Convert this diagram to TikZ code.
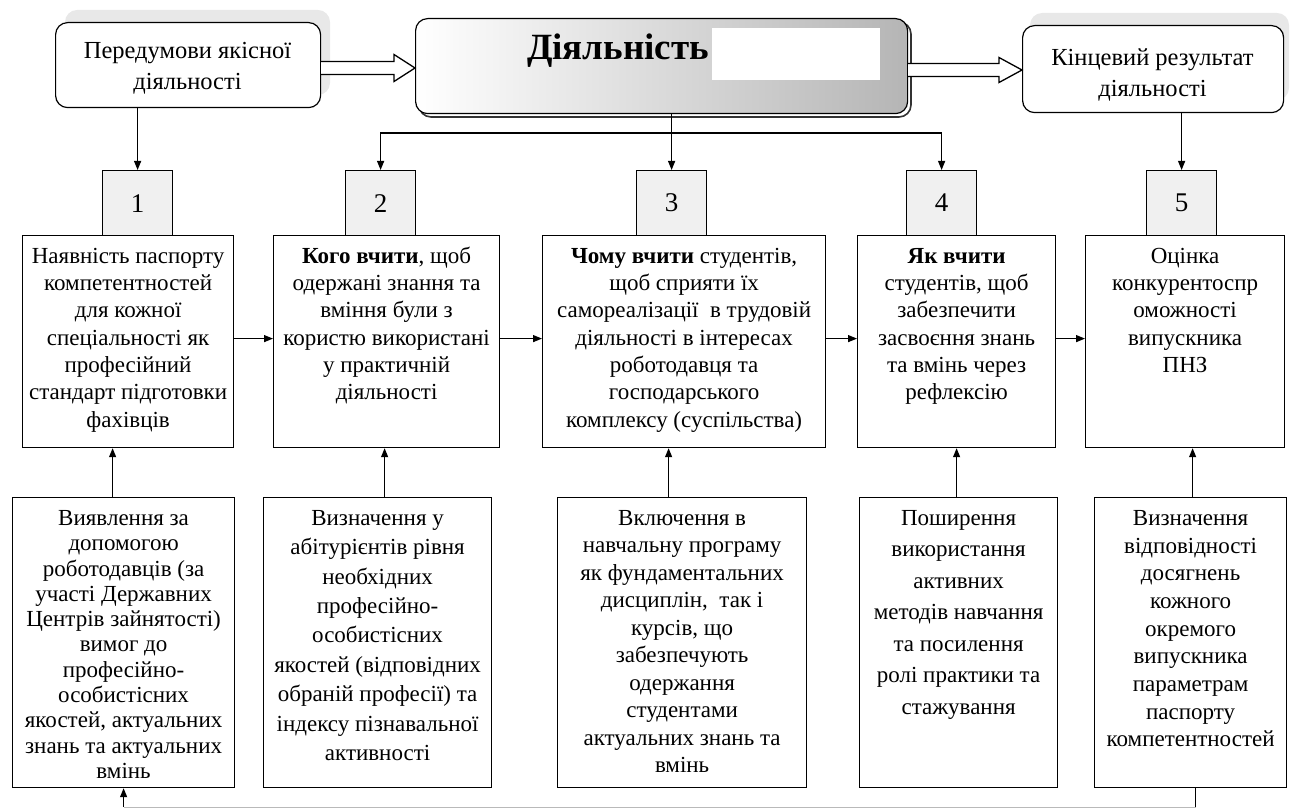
\documentclass[tikz,border=0pt]{standalone}
\usepackage{fontspec}
\setmainfont{Liberation Serif}
\usetikzlibrary{arrows.meta,calc}
\tikzset{
  box/.style={draw=black, line width=1.2pt, fill=white, inner sep=0pt, anchor=north west},
  numbox/.style={box, fill=gray!12, font=\fontsize{27}{30}\selectfont},
  rbox/.style={box, rounded corners=12pt},
  toptxt/.style={inner sep=0pt, align=center, font=\fontsize{24.5}{31}\selectfont},
  txt/.style={inner sep=0pt, align=center, anchor=north, font=\fontsize{23}{27.3}\selectfont},
  arr/.style={line width=1.2pt, -{Triangle[length=9pt,width=7pt]}},
  openarr/.style={draw=black, line width=1.3pt, fill=white, line join=miter}
}
\begin{document}
\begin{tikzpicture}[x=1pt,y=-1pt]
\useasboundingbox (0,0) rectangle (1292,810);

% ---------- top row ----------
\fill[gray!18, rounded corners=12pt] (65,10) rectangle (330,95);
\node[rbox, minimum width=265pt, minimum height=85pt] (A) at (55,22) {};
\node[toptxt] (At) at (187.5,68) {\strut Передумови якісної\\\strut діяльності};

\draw[line width=1.6pt, rounded corners=12pt, gray!40!black] (419,22) rectangle (911,117);
\node[rbox, left color=white, middle color=gray!52, right color=gray!58, minimum width=492pt, minimum height=95pt] (D) at (415,18) {};
\fill[white] (712,28) rectangle (880,80);
\node[inner sep=0pt, font=\bfseries\fontsize{37}{40}\selectfont] (Dt) at (618,51) {Діяльність};

\fill[gray!18, rounded corners=12pt] (1030,13) rectangle (1289,100);
\node[rbox, minimum width=261pt, minimum height=87pt] (K) at (1022,25) {};
\node[toptxt] (Kt) at (1152.5,75) {\strut Кінцевий результат\\\strut діяльності};

% open arrows
\coordinate (p1) at (A.east |- 0,68);
\coordinate (p2) at (D.west |- 0,68);
\draw[openarr] ($(p1)+(0,-6.5)$) -- ($(p2)+(-21,-6.5)$) -- ($(p2)+(-21,-13.5)$) -- (p2)
  -- ($(p2)+(-21,13.5)$) -- ($(p2)+(-21,6.5)$) -- ($(p1)+(0,6.5)$);
\coordinate (p3) at (D.east |- 0,70);
\coordinate (p4) at (K.west |- 0,70);
\draw[openarr] ($(p3)+(0,-6.5)$) -- ($(p4)+(-23,-6.5)$) -- ($(p4)+(-23,-12.5)$) -- (p4)
  -- ($(p4)+(-23,12.5)$) -- ($(p4)+(-23,6.5)$) -- ($(p3)+(0,6.5)$);

% ---------- number boxes ----------
\node[numbox, minimum width=70pt, minimum height=65pt] (n1) at (102,170) {1};
\node[numbox, minimum width=70pt, minimum height=65pt] (n2) at (345,170) {2};
\node[numbox, minimum width=70pt, minimum height=65pt] (n3) at (636,170) {3};
\node[numbox, minimum width=70pt, minimum height=65pt] (n4) at (906,170) {4};
\node[numbox, minimum width=70pt, minimum height=65pt] (n5) at (1146,170) {5};

\draw[arr] (n1.north |- A.south) -- (n1.north);
\draw[arr] (n5.north |- K.south) -- (n5.north);
\draw[arr] (n3.north |- D.south) -- (n3.north);
\coordinate (br) at (0,133);
\draw[line width=1.2pt, {Triangle[length=9pt,width=7pt]}-{Triangle[length=9pt,width=7pt]}]
  (n2.north) -- (n2.north |- br) -- (n4.north |- br) -- (n4.north);

% ---------- main boxes ----------
\node[box, minimum width=211pt, minimum height=212pt] (m1) at (22,235) {};
\node[box, minimum width=226pt, minimum height=212pt] (m2) at (273,235) {};
\node[box, minimum width=283pt, minimum height=212pt] (m3) at (542,235) {};
\node[box, minimum width=198pt, minimum height=212pt] (m4) at (857,235) {};
\node[box, minimum width=199pt, minimum height=212pt] (m5) at (1085,235) {};

\node[txt] (m1t) at ([yshift=-9pt]m1.north) {\strut Наявність паспорту\\компетентностей\\для кожної\\спеціальності як\\професійний\\стандарт підготовки\\фахівців};
\node[txt] (m2t) at ([yshift=-9pt]m2.north) {\strut\textbf{Кого вчити}, щоб\\одержані знання та\\вміння були з\\користю використані\\у практичній\\діяльності};
\node[txt] (m3t) at ([yshift=-9pt]m3.north) {\strut\textbf{Чому вчити} студентів,\\щоб сприяти їх\\самореалізації\ \ в трудовій\\діяльності в інтересах\\роботодавця та\\господарського\\комплексу (суспільства)};
\node[txt] (m4t) at ([yshift=-9pt]m4.north) {\strut\textbf{Як вчити}\\студентів, щоб\\забезпечити\\засвоєння знань\\та вмінь через\\рефлексію};
\node[txt] (m5t) at ([yshift=-9pt]m5.north) {\strut Оцінка\\конкурентоспр\\оможності\\випускника\\ПНЗ};

\foreach \a/\b in {m1/m2, m2/m3, m3/m4, m4/m5}
  \draw[arr] ([yshift=3pt]\a.east) -- ([yshift=3pt]\a.east -| \b.west);

% ---------- bottom boxes ----------
\node[box, minimum width=222pt, minimum height=290pt] (b1) at (12,497) {};
\node[box, minimum width=228pt, minimum height=290pt] (b2) at (263,497) {};
\node[box, minimum width=249pt, minimum height=290pt] (b3) at (557,497) {};
\node[box, minimum width=198pt, minimum height=290pt] (b4) at (859,497) {};
\node[box, minimum width=192pt, minimum height=290pt] (b5) at (1094,497) {};

\node[txt, font=\fontsize{23}{25.3}\selectfont] (b1t) at ([yshift=-10.5pt]b1.north) {\strut Виявлення за\\допомогою\\роботодавців (за\\участі Державних\\Центрів зайнятості)\\вимог до\\професійно-\\особистісних\\якостей, актуальних\\знань та актуальних\\вмінь};
\node[txt, font=\fontsize{23}{29.4}\selectfont] (b2t) at ([yshift=-7.6pt]b2.north) {\strut Визначення у\\абітурієнтів рівня\\необхідних\\професійно-\\особистісних\\якостей (відповідних\\обраній професії) та\\індексу пізнавальної\\активності};
\node[txt, font=\fontsize{23}{27.5}\selectfont] (b3t) at ([yshift=-9pt]b3.north) {\strut Включення в\\навчальну програму\\як фундаментальних\\дисциплін,\ \ так і\\курсів, що\\забезпечують\\одержання\\студентами\\актуальних знань та\\вмінь};
\node[txt, font=\fontsize{23}{31.5}\selectfont] (b4t) at ([yshift=-6.2pt]b4.north) {\strut Поширення\\використання\\активних\\методів навчання\\та посилення\\ролі практики та\\стажування};
\node[txt, font=\fontsize{23}{27.7}\selectfont] (b5t) at ([yshift=-8.8pt]b5.north) {\strut Визначення\\відповідності\\досягнень\\кожного\\окремого\\випускника\\параметрам\\паспорту\\компетентностей};

\draw[arr] ([xshift=-11pt]b1.north) -- ([xshift=-11pt]b1.north |- m1.south);
\draw[arr] ([xshift=7pt]b2.north) -- ([xshift=7pt]b2.north |- m2.south);
\draw[arr] ([xshift=-13.5pt]b3.north) -- ([xshift=-13.5pt]b3.north |- m3.south);
\draw[arr] ([xshift=-2pt]b4.north) -- ([xshift=-2pt]b4.north |- m4.south);
\draw[arr] ([xshift=2pt]b5.north) -- ([xshift=2pt]b5.north |- m5.south);

% ---------- feedback ----------
\coordinate (fb) at (0,807);
\draw[line width=1.2pt] ([xshift=5pt]b5.south) -- ([xshift=5pt]b5.south |- fb);
\draw[gray!55, line width=1pt] ([xshift=5pt]b5.south |- fb) -- (b1.south |- fb);
\draw[arr] (b1.south |- fb) -- (b1.south);
\end{tikzpicture}
\end{document}
